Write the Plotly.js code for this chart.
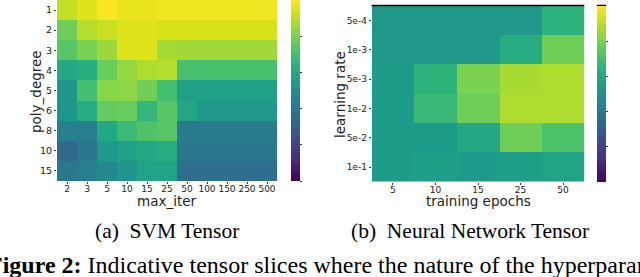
<!DOCTYPE html>
<html><head><meta charset="utf-8">
<script src="https://cdn.plot.ly/plotly-3.0.1.min.js"></script>
<style>html,body{margin:0;padding:0;background:#fff;}#c{width:640px;height:277px;}</style>
</head><body><div id="c"></div>
<script>
// SVM tensor slice
const svmMaxIter = ['2','3','5','10','15','25','50','100','150','250','500'];
const svmPolyDegree = ['1','2','3','4','5','6','8','10','15'];
const svmValues = [
  [0.91, 0.95, 0.99, 0.97, 0.97, 0.98, 0.98, 0.98, 0.98, 0.98, 0.98],
  [0.78, 0.89, 0.92, 0.95, 0.95, 0.94, 0.94, 0.94, 0.94, 0.94, 0.94],
  [0.74, 0.80, 0.85, 0.95, 0.95, 0.87, 0.86, 0.86, 0.86, 0.86, 0.86],
  [0.60, 0.63, 0.77, 0.84, 0.88, 0.89, 0.71, 0.71, 0.71, 0.71, 0.71],
  [0.52, 0.70, 0.82, 0.83, 0.78, 0.70, 0.57, 0.57, 0.57, 0.57, 0.57],
  [0.52, 0.62, 0.76, 0.77, 0.66, 0.74, 0.59, 0.53, 0.53, 0.53, 0.53],
  [0.43, 0.42, 0.60, 0.68, 0.72, 0.74, 0.41, 0.41, 0.41, 0.41, 0.41],
  [0.34, 0.40, 0.53, 0.57, 0.60, 0.62, 0.40, 0.40, 0.40, 0.40, 0.40],
  [0.40, 0.42, 0.47, 0.52, 0.58, 0.58, 0.36, 0.36, 0.36, 0.36, 0.36]
];
// Neural network tensor slice
const nnEpochs = ['5','10','15','25','50'];
const nnLearningRate = ['5e-4','1e-3','5e-3','1e-2','5e-2','1e-1'];
const nnValues = [
  [0.53, 0.53, 0.53, 0.53, 0.64],
  [0.53, 0.53, 0.53, 0.62, 0.78],
  [0.55, 0.65, 0.80, 0.87, 0.88],
  [0.55, 0.67, 0.78, 0.88, 0.88],
  [0.55, 0.55, 0.60, 0.78, 0.72],
  [0.55, 0.56, 0.54, 0.56, 0.58]
];
const svmCbTicks = [0, 0.2, 0.4, 0.6, 0.8];
const nnCbTicks = [0.2, 0.4, 0.6, 0.8];

const W = 640, H = 277;
const px = v => v / W;
const py = v => (H - v) / H;
const tickFont = {family: 'DejaVu Sans', size: 9, color: '#222'};
const titleFont = {family: 'DejaVu Sans', size: 13.5, color: '#222'};

const traces = [
  {type: 'heatmap', x: svmMaxIter, y: svmPolyDegree, z: svmValues,
   colorscale: 'Viridis', zmin: 0, zmax: 1, xaxis: 'x', yaxis: 'y',
   colorbar: {x: px(291), xanchor: 'left', y: py(0), yanchor: 'top', len: 181/H, lenmode: 'fraction',
              thickness: 9, thicknessmode: 'pixels', xpad: 0, ypad: 0, outlinewidth: 0,
              tickmode: 'array', tickvals: svmCbTicks, ticks: 'outside', ticklen: 2, tickcolor: '#333',
              showticklabels: false}},
  {type: 'heatmap', x: nnEpochs, y: nnLearningRate, z: nnValues,
   colorscale: 'Viridis', zmin: 0, zmax: 1, xaxis: 'x2', yaxis: 'y2',
   colorbar: {x: px(597), xanchor: 'left', y: py(6), yanchor: 'top', len: 176/H, lenmode: 'fraction',
              thickness: 9, thicknessmode: 'pixels', xpad: 0, ypad: 0, outlinewidth: 0,
              tickmode: 'array', tickvals: nnCbTicks, ticks: 'outside', ticklen: 2, tickcolor: '#333',
              showticklabels: false}}
];

const axBase = {type: 'category', showgrid: false, zeroline: false, showline: false,
                ticks: 'outside', ticklen: 2, tickcolor: '#333', tickfont: tickFont, fixedrange: true};

const layout = {
  width: W, height: H, margin: {l: 0, r: 0, t: 0, b: 0}, paper_bgcolor: '#fff', plot_bgcolor: '#fff',
  showlegend: false,
  xaxis: Object.assign({}, axBase, {domain: [px(57), px(277)], anchor: 'y', tickangle: 0, ticklabelstandoff: -3}),
  yaxis: Object.assign({}, axBase, {domain: [py(181), 1], anchor: 'x', autorange: 'reversed', tickfont: {family: 'DejaVu Sans', size: 9.5, color: '#222'}}),
  xaxis2: Object.assign({}, axBase, {domain: [px(371.7), px(584.3)], anchor: 'y2', tickangle: 0, ticklabelstandoff: -3}),
  yaxis2: Object.assign({}, axBase, {domain: [py(181.7), py(5.7)], anchor: 'x2', autorange: 'reversed'}),
  shapes: [
    {type: 'line', xref: 'paper', yref: 'paper', x0: px(371.7), x1: px(584.3), y0: py(5.5), y1: py(5.5), line: {color: '#000', width: 1.5}},
    {type: 'line', xref: 'paper', yref: 'paper', x0: px(597), x1: px(606), y0: py(5.5), y1: py(5.5), line: {color: '#000', width: 1.5}}
  ],
  annotations: [
    {text: 'poly_degree', xref: 'paper', yref: 'paper', x: px(36), y: py(92), textangle: -90, showarrow: false,
     font: titleFont, xanchor: 'center', yanchor: 'middle'},
    {text: 'max_iter', xref: 'paper', yref: 'paper', x: px(167), y: py(200.5), showarrow: false,
     font: titleFont, xanchor: 'center', yanchor: 'middle'},
    {text: 'learning rate', xref: 'paper', yref: 'paper', x: px(340), y: py(95), textangle: -90, showarrow: false,
     font: titleFont, xanchor: 'center', yanchor: 'middle'},
    {text: 'training epochs', xref: 'paper', yref: 'paper', x: px(478), y: py(201), showarrow: false,
     font: titleFont, xanchor: 'center', yanchor: 'middle'},
    {text: '(a)  SVM Tensor', xref: 'paper', yref: 'paper', x: px(167), y: py(230.5), showarrow: false,
     font: {family: 'Liberation Serif', size: 21.5, color: '#000'}, xanchor: 'center', yanchor: 'middle'},
    {text: '(b)  Neural Network Tensor', xref: 'paper', yref: 'paper', x: px(470), y: py(230.5), showarrow: false,
     font: {family: 'Liberation Serif', size: 21.5, color: '#000'}, xanchor: 'center', yanchor: 'middle'},
    {text: '<b>Figure 2:</b> Indicative tensor slices where the nature of the hyperparameter space', xref: 'paper', yref: 'paper',
     x: px(-14.5), y: py(265), showarrow: false, font: {family: 'Liberation Serif', size: 24, color: '#000'},
     xanchor: 'left', yanchor: 'middle'}
  ]
};

Plotly.newPlot('c', traces, layout, {displayModeBar: false, staticPlot: true});
</script>
</body></html>
